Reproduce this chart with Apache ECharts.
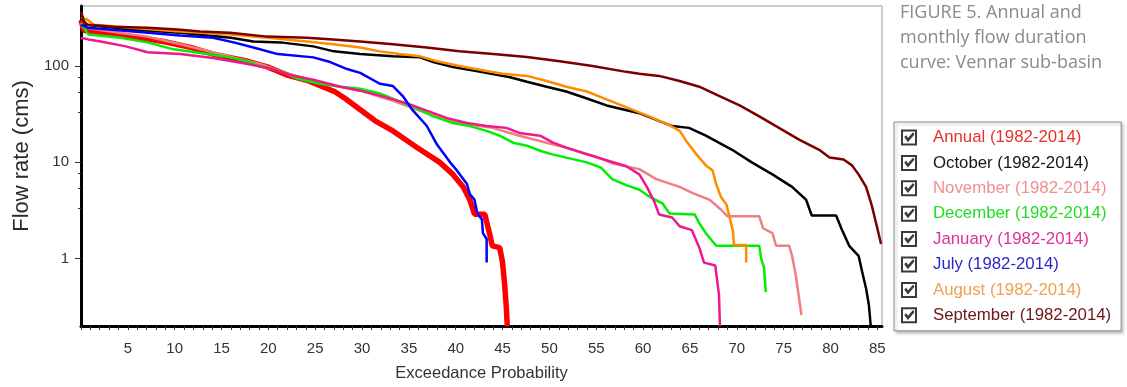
<!DOCTYPE html>
<html><head><meta charset="utf-8">
<script src="https://cdn.jsdelivr.net/npm/echarts@6/dist/echarts.min.js"></script>
<style>html,body{margin:0;padding:0;background:#fff}#c{width:1127px;height:387px}</style>
</head><body><div id="c"></div>
<script>
const seriesNames = ['Annual (1982-2014)','October (1982-2014)','November (1982-2014)','December (1982-2014)','January (1982-2014)','July (1982-2014)','August (1982-2014)','September (1982-2014)'];
const xTickLabels = [5,10,15,20,25,30,35,40,45,50,55,60,65,70,75,80,85];
const yTickLabels = [1,10,100];
const yMinorTicks = [3.3,5.4,7.7,33,54,77];

const annual = [[0,300],[0.3,235],[2,222],[5.3,202],[8.8,180],[11.7,156],[14.1,133],[17.8,112],[19.9,98],[22.1,80],[24.3,70],[27.1,54],[28.2,46],[29.6,36.4],[31.4,27],[33.3,21.2],[35.9,14.2],[38.3,10],[39.7,7.5],[40.8,5.56],[41.5,4.1],[42,2.9],[43.1,2.9],[43.6,1.84],[43.9,1.36],[44.7,1.3],[45,0.91],[45.2,0.57],[45.4,0.31],[45.5,0.2]];
const october = [[0,350],[0.5,268],[5.3,239],[10.6,222],[16.0,197],[18.4,180],[21.3,176],[24.8,160],[27.0,142],[29.8,133],[33.3,126],[36.2,123],[37.6,110],[39.7,97.7],[42.2,89],[45.7,77],[47.6,68.6],[49.7,61],[51.8,54.4],[54.0,46],[56.1,39],[59.6,32.4],[63.1,23.8],[64.9,22.8],[66.7,18.9],[69.5,13.5],[71.6,10],[73.8,7.5],[75.9,5.56],[77.4,4.09],[78.0,2.81],[80.6,2.81],[81.2,2.02],[82.0,1.36],[83.0,1.07],[83.4,0.72],[83.8,0.49],[84.1,0.33],[84.3,0.2]];
const november = [[0,260],[0.5,250],[2.6,232],[7.1,202],[10.6,168],[14.1,139],[17.0,118],[19.1,105],[23.1,77],[26.6,64],[29.8,55.5],[33.3,43.6],[36.9,32.4],[40.4,25.6],[43.9,22.8],[46.8,18.9],[49.7,16.0],[51.8,14.2],[54.6,11.8],[56.7,9.8],[59.6,8.5],[61.4,6.7],[63.9,5.56],[65.3,4.8],[67.1,4.09],[68.3,3.24],[69.0,2.75],[72.4,2.75],[72.8,2.07],[73.8,1.84],[74.2,1.36],[75.6,1.36],[75.9,1.07],[76.3,0.67],[76.6,0.42],[76.9,0.26]];
const december = [[0,280],[0.3,250],[0.8,212],[4.2,197],[7.1,176],[9.9,149],[13.5,133],[15.9,123],[17.7,112],[19.1,100],[21.3,89],[23.1,74],[25.5,65.5],[27.7,61],[29.8,58],[31.9,52],[34.0,43],[35.4,38],[37.6,30],[39.7,25.6],[41.5,23.8],[43.3,21.2],[44.7,18.9],[46.1,16.0],[47.6,14.9],[49.0,13.2],[50.3,12.1],[51.8,11.2],[54.0,10],[55.5,8.8],[56.7,6.7],[58.2,5.8],[59.6,5.2],[60.7,4.39],[62.1,3.72],[62.8,2.95],[65.5,2.88],[66.0,2.33],[66.7,1.84],[67.8,1.36],[72.4,1.36],[72.6,1.0],[72.9,0.81],[73.1,0.45]];
const january = [[0,197],[0.8,189],[2.1,180],[4.8,160],[7.1,139],[10.6,133],[14.1,121],[17.8,105],[20.5,93],[22.7,79],[24.8,72],[27.7,61],[29.8,55.5],[31.9,49.3],[34.8,41],[36.9,34.5],[39.1,28.8],[41.2,25.6],[43.3,23.8],[45.4,22.8],[46.8,20.2],[49.0,18.9],[50.4,16.0],[51.8,14.2],[54.0,12.1],[56.1,10.5],[58.2,9.1],[59.6,7.5],[60.4,5.56],[61.2,3.9],[61.7,2.88],[63.1,2.68],[63.9,2.17],[65.2,1.98],[66.0,1.3],[66.5,0.91],[67.7,0.85],[67.9,0.6],[68.1,0.42],[68.2,0.2]];
const july = [[0,268],[0.7,250],[5.6,228],[10.6,207],[14.1,197],[16.3,176],[18.4,156],[21.0,133],[24.8,123],[26.6,110],[28.4,93],[29.8,85],[31.9,65.5],[33.3,62],[34.4,48],[35.4,34.8],[36.9,24],[38.0,15.3],[39.4,10],[40.1,8.3],[41.2,5.95],[41.5,4.7],[42.0,4.1],[42.3,2.95],[42.8,2.56],[42.9,1.84],[43.3,1.6],[43.3,0.91]];
const august = [[0,320],[0.7,302],[1.4,268],[5.3,250],[10.6,228],[16.0,212],[19.9,197],[24.1,180],[26.9,168],[29.8,156],[31.9,142],[34.0,133],[36.2,126],[38.0,112],[40.4,100],[43.3,89],[45.0,83],[47.6,79],[49.7,70],[51.8,61],[54.0,54.4],[56.1,45],[58.5,36.4],[60.4,30.8],[62.8,24.4],[63.9,21.2],[64.6,16.7],[65.7,12.1],[66.7,9.3],[67.4,8.3],[67.8,5.95],[68.3,4.39],[68.9,3.64],[69.2,2.75],[69.6,1.93],[69.7,1.39],[71.0,1.39],[71.0,0.91]];
const september = [[0,370],[0.3,290],[0.7,268],[3.5,256],[7.1,250],[10.3,239],[12.7,228],[15.9,222],[19.9,202],[24.1,197],[26.9,189],[29.8,180],[33.3,168],[36.9,156],[40.4,142],[44.0,133],[47.6,124],[51.1,112],[54.6,100],[58.2,87],[59.6,83],[61.7,79],[63.9,70],[66.0,61],[68.1,49],[70.3,39],[72.4,30],[74.5,22.8],[76.7,17.1],[78.8,13.5],[79.9,11.2],[81.4,10.7],[82.3,9.3],[83.0,7.5],[83.8,5.56],[84.4,3.6],[84.9,2.27],[85.4,1.42]];

const seriesData = [annual, october, november, december, january, july, august, september];
const lineColors = ['#ff0000','#000000','#f08080','#00ee00','#f0188c','#0000ff','#ff8c00','#7a0000'];
const textColors = ['#e8302a','#151515','#f09090','#22dd22','#e0309a','#2828c8','#f0a050','#6a1818'];
const lineWidths = [5.5,2.5,2.5,2.5,2.5,2.5,2.5,2.5];

const xMinorTicks = [];
for (let i = 0; i <= 85; i++) xMinorTicks.push(i);

const chart = echarts.init(document.getElementById('c'));
const checkIcon = 'path://M0,0H20V20H0Z M2.5,2.5V17.5H17.5V2.5Z M4,9.5L6.8,7.3L8.6,10.6L15,3.5L17,5.8L8.6,15.8Z';

chart.setOption({
  animation: false,
  backgroundColor: '#fff',
  title: {
    text: 'FIGURE 5. Annual and\nmonthly flow duration\ncurve: Vennar sub-basin',
    left: 900, top: 0, padding: 0,
    textStyle: { fontFamily: 'Open Sans', fontSize: 18, fontWeight: 'normal', color: '#8a8a8a', lineHeight: 25 }
  },
  legend: {
    orient: 'vertical', left: 894, top: 122,
    padding: [7, 10, 7, 7],
    backgroundColor: '#fff', borderColor: '#8a8a8a', borderWidth: 1,
    shadowColor: 'rgba(0,0,0,0.25)', shadowBlur: 3, shadowOffsetX: 2, shadowOffsetY: 2,
    itemWidth: 16, itemHeight: 16, itemGap: 8.4,
    icon: checkIcon,
    itemStyle: { color: '#3a3a3a', borderWidth: 0 },
    selectedMode: false,
    textStyle: { fontFamily: 'Liberation Sans', fontSize: 16.8, padding: [0, 0, 0, 11] },
    data: seriesNames.map((n, i) => ({ name: n, textStyle: { color: textColors[i] } }))
  },
  grid: { left: 81, right: 245, top: 6, bottom: 56, show: true, borderColor: '#9a9a9a', borderWidth: 1, backgroundColor: '#fff' },
  xAxis: {
    type: 'value', min: 0, max: 85.5, interval: 5,
    axisLine: { show: true, onZero: false, lineStyle: { color: '#000', width: 3 } },
    axisTick: { show: true, customValues: xMinorTicks, length: 4, lineStyle: { color: '#333', width: 1 } },
    axisLabel: { customValues: xTickLabels, margin: 15, fontSize: 15, color: '#333', fontFamily: 'Liberation Sans' },
    splitLine: { show: false },
    name: 'Exceedance Probability', nameLocation: 'middle', nameGap: 39,
    nameTextStyle: { fontSize: 16.5, color: '#333', fontFamily: 'Liberation Sans' }
  },
  yAxis: [{
    type: 'log', logBase: 10, min: 0.2, max: 420,
    axisLine: { show: true, onZero: false, lineStyle: { color: '#000', width: 3 } },
    axisTick: { show: true, customValues: yTickLabels, length: 6, lineStyle: { color: '#333', width: 1 } },
    axisLabel: { customValues: yTickLabels, margin: 12, fontSize: 15, color: '#333', fontFamily: 'Liberation Sans' },
    splitLine: { show: false },
    name: 'Flow rate (cms)', nameLocation: 'middle', nameGap: 47,
    nameTextStyle: { fontSize: 22, color: '#2a2a2a', fontFamily: 'Liberation Sans', padding: [0, 0, 0, 20] }
  }, {
    type: 'log', logBase: 10, min: 0.2, max: 420, position: 'left',
    axisLine: { show: false },
    axisTick: { show: true, customValues: yMinorTicks, length: 3, lineStyle: { color: '#333', width: 1 } },
    axisLabel: { show: false },
    splitLine: { show: false }
  }],
  series: seriesData.map((d, i) => ({
    name: seriesNames[i], type: 'line', data: d, yAxisIndex: 0,
    showSymbol: false, symbol: 'none', clip: true,
    color: lineColors[i],
    lineStyle: { color: lineColors[i], width: lineWidths[i] },
    emphasis: { disabled: true }
  }))
});
</script></body></html>
